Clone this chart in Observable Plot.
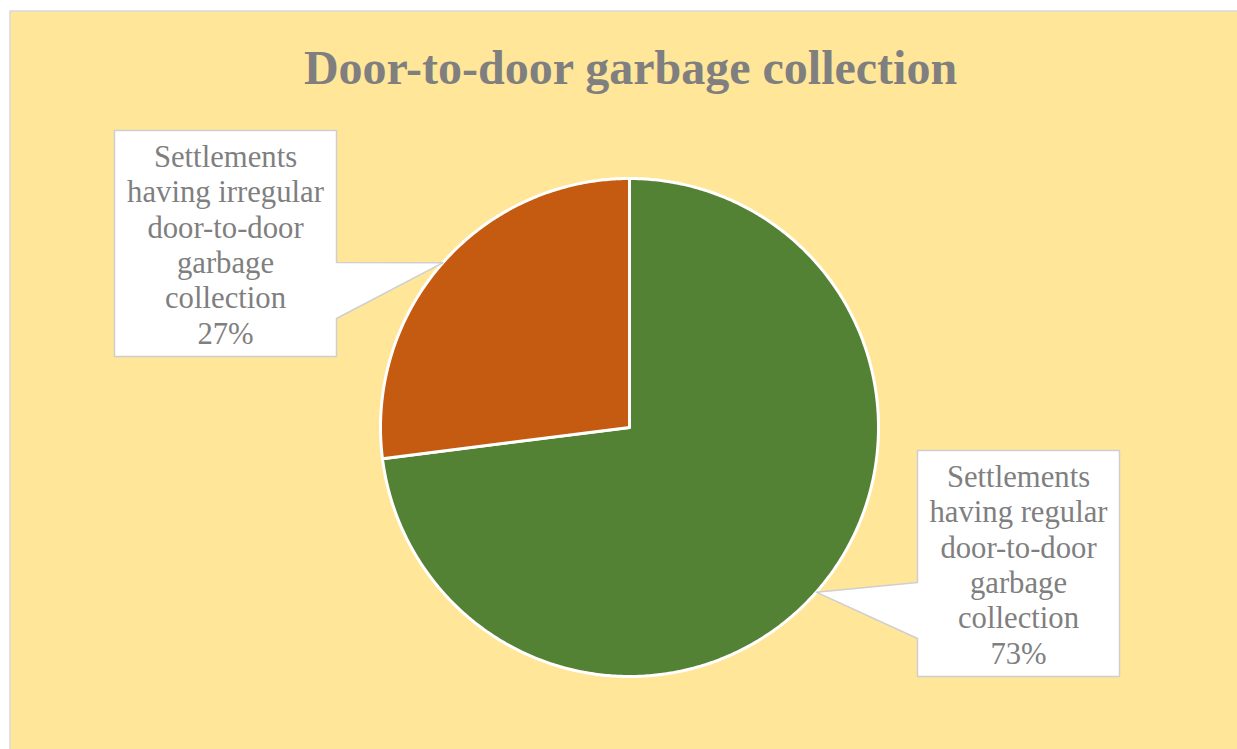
<!DOCTYPE html>
<html>
<head>
<meta charset="utf-8">
<script src="https://cdn.jsdelivr.net/npm/d3@7"></script>
<script src="https://cdn.jsdelivr.net/npm/@observablehq/plot@0.6"></script>
<style>
  html, body { margin: 0; padding: 0; background: #ffffff; }
  #chart { width: 1237px; height: 749px; overflow: hidden; }
  #chart svg { display: block; overflow: hidden; }
  #chart svg text { font-family: "Liberation Serif", "Times New Roman", serif; }
</style>
</head>
<body>
<div id="chart"></div>
<script>
// Chart data
const title = "Door-to-door garbage collection";
const categories = [
  "Settlements having regular door-to-door garbage collection",
  "Settlements having irregular door-to-door garbage collection"
];
const labelLines = [
  ["Settlements", "having regular", "door-to-door", "garbage", "collection"],
  ["Settlements", "having irregular", "door-to-door", "garbage", "collection"]
];
const values = [73, 27];
const colors = ["#548235", "#C55A11"];

// Layout
const W = 1237, H = 749;
const cx = 629, cy = 427, R = 249;
const textColor = "#7F7F7F";

// Callout boxes, one per category (pointer joins the box on the side facing the pie)
const boxes = [
  {x1: 917, x2: 1119, y1: 450, y2: 676, side: "left"},
  {x1: 114, x2: 336, y1: 130, y2: 356, side: "right"}
];

// Pie angles (0 at 12 o'clock, clockwise)
const arcs = d3.pie().sort(null).value(d => d)(values);
const pt = (a, r) => [cx + r * Math.sin(a), cy - r * Math.cos(a)];

// Slice outlines as closed polygons
const slices = [];
arcs.forEach((a, i) => {
  const n = Math.max(2, Math.ceil((a.endAngle - a.startAngle) / (Math.PI / 360)));
  const [x0, y0] = pt(0, 0);
  slices.push({cat: categories[i], x: x0, y: y0});
  for (let k = 0; k <= n; ++k) {
    const t = a.startAngle + (a.endAngle - a.startAngle) * k / n;
    const [x, y] = pt(t, R);
    slices.push({cat: categories[i], x, y});
  }
});

// Callout shapes with pointer to the middle of each slice's arc
const callouts = [];
arcs.forEach((a, i) => {
  const b = boxes[i];
  const [tx, ty] = pt((a.startAngle + a.endAngle) / 2, R);
  const ja = b.y1 + 132, jb = b.y1 + 188;
  const poly = b.side === "right"
    ? [[b.x1, b.y1], [b.x2, b.y1], [b.x2, ja], [tx, ty], [b.x2, jb], [b.x2, b.y2], [b.x1, b.y2]]
    : [[b.x1, b.y1], [b.x2, b.y1], [b.x2, b.y2], [b.x1, b.y2], [b.x1, jb], [tx, ty], [b.x1, ja]];
  poly.forEach(([x, y]) => callouts.push({id: i, x, y}));
});

const total = d3.sum(values);
const pct = d3.format(".0%");
const labels = arcs.map((a, i) => ({
  x: (boxes[i].x1 + boxes[i].x2) / 2,
  y: boxes[i].y2 - 13,
  text: labelLines[i].join("\n") + "\n" + pct(values[i] / total)
}));

const chart = Plot.plot({
  width: W,
  height: H,
  margin: 0,
  x: {domain: [0, W], range: [0, W], axis: null},
  y: {domain: [0, H], range: [0, H], axis: null},
  color: {domain: categories, range: colors},
  style: {background: "transparent", fontFamily: "Liberation Serif"},
  marks: [
    Plot.frame({fill: "#FFE699", stroke: "#D9D9D9", strokeWidth: 1.5,
      insetLeft: 9.5, insetTop: 10.5, insetRight: -4, insetBottom: -4}),
    Plot.text([title], {
      x: () => 630, y: () => 83, text: d => d,
      lineAnchor: "bottom", textAnchor: "middle",
      fontSize: 48, fontWeight: "bold", fill: textColor
    }),
    Plot.line(slices, {
      x: "x", y: "y", z: "cat", fill: "cat",
      stroke: "white", strokeWidth: 3, curve: "linear-closed", strokeLinejoin: "round"
    }),
    Plot.line(callouts, {
      x: "x", y: "y", z: "id", fill: "white",
      stroke: "#CFCFCF", strokeWidth: 1.5, curve: "linear-closed"
    }),
    Plot.text(labels, {
      x: "x", y: "y", text: "text",
      lineAnchor: "bottom", textAnchor: "middle", lineHeight: 1.15,
      fontSize: 30.7, fill: textColor
    })
  ]
});

document.getElementById("chart").appendChild(chart);
</script>
</body>
</html>
